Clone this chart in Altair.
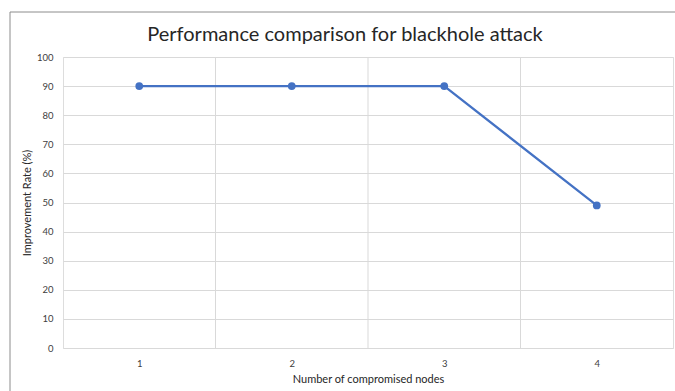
import altair as alt
import pandas as pd

nodes = [1, 2, 3, 4]
rates = [90, 90, 90, 49]

df = pd.DataFrame({"nodes": nodes, "rate": rates})
FONT = "Lato"

base = alt.Chart(df)

xscale = alt.Scale(domain=[0.5, 4.5], nice=False, zero=False)
yscale = alt.Scale(domain=[0, 100], nice=False)

xaxis = alt.Axis(values=nodes, format="d", grid=False, ticks=False, domain=False,
                 title="Number of compromised nodes", labelFontSize=9.5,
                 labelColor="#404040", labelPadding=10, titleFontSize=11,
                 titleColor="#262626", titleFontWeight="normal", titlePadding=6,
                 labelFont=FONT, titleFont=FONT, labelOverlap=False)
yaxis = alt.Axis(values=list(range(0, 101, 10)), grid=True, gridColor="#d9d9d9",
                 ticks=False, domain=False, title="Improvement Rate (%)",
                 labelFontSize=9.5, labelColor="#404040", labelPadding=10,
                 titleFontSize=11, titleColor="#262626", titleFontWeight="normal",
                 titlePadding=4, labelFont=FONT, titleFont=FONT,
                 labelOverlap=False)

border = base.mark_rect(filled=False, stroke="#8c8c8c", strokeWidth=1).encode(
    x=alt.value(-53), x2=alt.value(720), y=alt.value(-45), y2=alt.value(420)
).transform_filter("datum.nodes == 1")

grid_v = base.mark_rule(color="#d9d9d9", strokeWidth=1).encode(
    x=alt.X("xg:Q", scale=xscale, axis=xaxis),
).transform_calculate(xg="datum.nodes + 0.5").transform_filter("datum.xg < 4.5")

line = base.mark_line(color="#4472C4", strokeWidth=2.25).encode(
    x=alt.X("nodes:Q", scale=xscale, axis=xaxis),
    y=alt.Y("rate:Q", scale=yscale, axis=yaxis),
)

points = base.mark_circle(color="#4472C4", size=60, opacity=1).encode(
    x=alt.X("nodes:Q", scale=xscale, axis=xaxis),
    y=alt.Y("rate:Q", scale=yscale, axis=yaxis),
)

title = base.mark_text(text="Performance comparison for blackhole attack", fontSize=20,
                       font=FONT, color="#262626", align="center", baseline="alphabetic").encode(
    x=alt.value(282), y=alt.value(-16)
).transform_filter("datum.nodes == 1")

chart = alt.layer(border, grid_v, line, points, title).properties(
    width=610, height=291,
    autosize=alt.AutoSizeParams(type="none"),
    padding={"left": 63, "top": 57, "right": 2, "bottom": 43},
).configure_view(stroke="#d9d9d9", strokeWidth=1).configure(background="white")

chart.save("out.html", embed_options={"renderer": "svg", "actions": False})
